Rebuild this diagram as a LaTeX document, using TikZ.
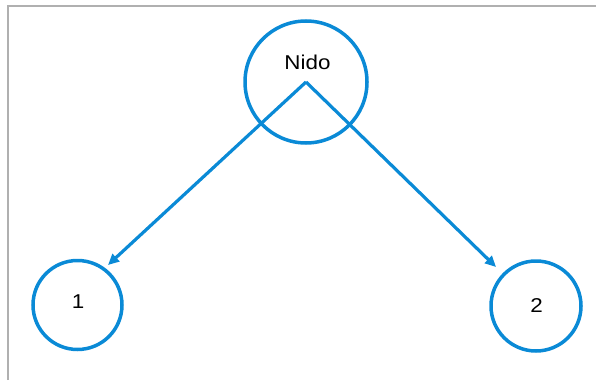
\documentclass[tikz,border=0pt]{standalone}
\usepackage{fontspec}
\setmainfont{Liberation Sans}[FakeStretch=1.12]
\usetikzlibrary{arrows.meta}
\definecolor{nodeblue}{HTML}{0A8AD6}
\definecolor{framegray}{HTML}{B0B0B0}
\begin{document}
\begin{tikzpicture}[x=1pt,y=-1pt,
  circ/.style={circle,draw=nodeblue,line width=3.5pt,inner sep=0pt,fill=none},
  link/.style={draw=nodeblue,line width=3.2pt,-{Triangle[length=11pt,width=10pt]}},
  lbl/.style={font=\fontsize{20}{23}\selectfont,text=black,inner sep=0pt}]
\useasboundingbox (0,0) rectangle (596,380);
\draw[framegray,line width=1.6pt] (7.7,380) -- (7.7,5.7) -- (596,5.7);
\node[circ,minimum size=122pt] (nido) at (306,82) {};
\node[lbl] (nidotext) at (307.5,62) {Nido};
\node[circ,minimum size=89pt] (n1) at (77.5,305) {};
\node[lbl] (n1text) at (78,302) {1};
\node[circ,minimum size=90pt] (n2) at (536,306) {};
\node[lbl] (n2text) at (536.5,305.5) {2};
\coordinate (t1) at (108,265);
\coordinate (t2) at (496,267);
\draw[link] (nido.center) -- (t1);
\draw[link] (nido.center) -- (t2);
\end{tikzpicture}
\end{document}
